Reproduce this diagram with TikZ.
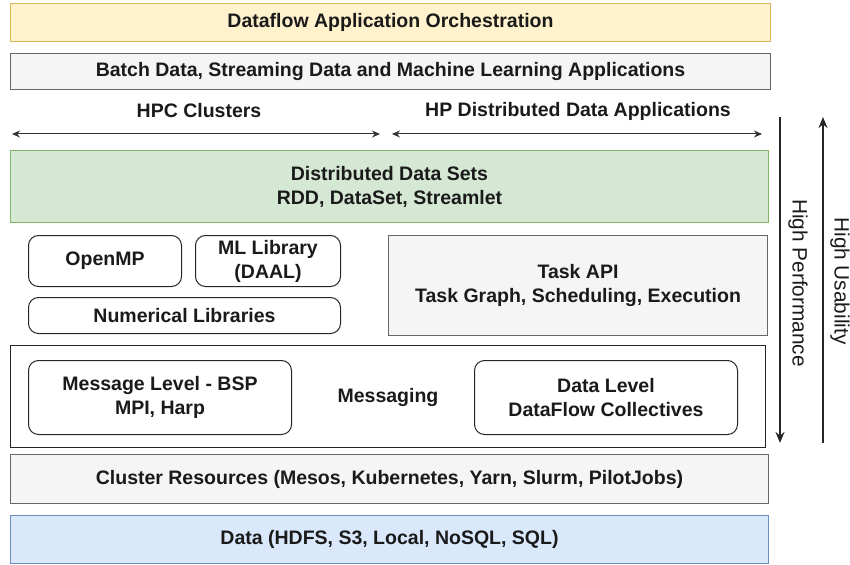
\documentclass[tikz,border=0pt]{standalone}
\usepackage{fontspec}
\setmainfont{Liberation Sans}
\usetikzlibrary{arrows.meta}
\definecolor{yfill}{HTML}{FFF2CC}\definecolor{ydraw}{HTML}{D6B656}
\definecolor{gfill}{HTML}{F5F5F5}\definecolor{gdraw}{HTML}{666666}
\definecolor{grfill}{HTML}{D5E8D4}\definecolor{grdraw}{HTML}{82B366}
\definecolor{bfill}{HTML}{DAE8FC}\definecolor{bdraw}{HTML}{6C8EBF}
\definecolor{txt}{HTML}{1A1A1A}
\begin{document}
\begin{tikzpicture}[x=1pt,y=-1pt,
  every node/.style={font=\fontsize{19.5}{24}\selectfont\bfseries, text=txt, align=center, inner sep=0pt},
  layer/.style={draw, line width=1pt, anchor=north west},
  rbox/.style={draw=black!85, line width=1pt, rounded corners=10pt, anchor=north west, fill=white},
  harrow/.style={{Stealth[length=8pt,width=7pt]}-{Stealth[length=8pt,width=7pt]}, line width=1pt, draw=black!80},
  varrow/.style={-{Stealth[length=11pt,width=9pt]}, line width=2pt, draw=black!85},
  side/.style={font=\fontsize{20.8}{24}\selectfont, rotate=-90}
]
\useasboundingbox (0,0) rectangle (850,564);
\node[layer, fill=yfill, draw=ydraw, minimum width=760pt, minimum height=38pt] (orch) at (10,3) {Dataflow Application Orchestration};
\node[layer, fill=gfill, draw=gdraw, minimum width=760pt, minimum height=36pt] (apps) at (10,53) {Batch Data, Streaming Data and Machine Learning Applications};
\node (hpc) at (199,111) {HPC Clusters};
\node (hpd) at (578,111) {HP Distributed Data Applications};
\coordinate (a1) at (12,134); \coordinate (a2) at (380,134);
\coordinate (b1) at (392,134); \coordinate (b2) at (762,134);
\draw[harrow] (a1) -- (a2);
\draw[harrow] (b1) -- (b2);
\node[layer, fill=grfill, draw=grdraw, minimum width=758pt, minimum height=72pt] (dds) at (10,150) {Distributed Data Sets\\RDD, DataSet, Streamlet};
\node[rbox, minimum width=153pt, minimum height=51pt] (omp) at (28,235) {OpenMP};
\node[rbox, minimum width=145pt, minimum height=51pt] (ml) at (195,235) {ML Library\\(DAAL)};
\node[rbox, minimum width=312pt, minimum height=36pt] (num) at (28,297) {Numerical Libraries};
\node[layer, fill=gfill, draw=gdraw, minimum width=379pt, minimum height=100pt] (task) at (388,235) {Task API\\Task Graph, Scheduling, Execution};
\node[layer, draw=black!85, fill=white, minimum width=755pt, minimum height=102pt] (msgbox) at (10,345) {};
\node[rbox, minimum width=263pt, minimum height=74pt] (mlev) at (28,360) {Message Level - BSP\\MPI, Harp};
\node (msg) at (388,397) {Messaging};
\node[rbox, minimum width=263pt, minimum height=74pt] (dlev) at (474,360) {Data Level\\DataFlow Collectives};
\node[layer, fill=gfill, draw=gdraw, minimum width=758pt, minimum height=49pt] (clus) at (10,454) {Cluster Resources (Mesos, Kubernetes, Yarn, Slurm, PilotJobs)};
\node[layer, fill=bfill, draw=bdraw, minimum width=758pt, minimum height=48pt] (data) at (10,515) {Data (HDFS, S3, Local, NoSQL, SQL)};
\coordinate (p1) at (780,117); \coordinate (p2) at (780,443);
\coordinate (u1) at (823,443); \coordinate (u2) at (823,117);
\draw[varrow] (p1) -- (p2);
\draw[varrow] (u1) -- (u2);
\node[side] (hp) at (798,283) {High Performance};
\node[side] (hu) at (840,281) {High Usability};
\end{tikzpicture}
\end{document}
